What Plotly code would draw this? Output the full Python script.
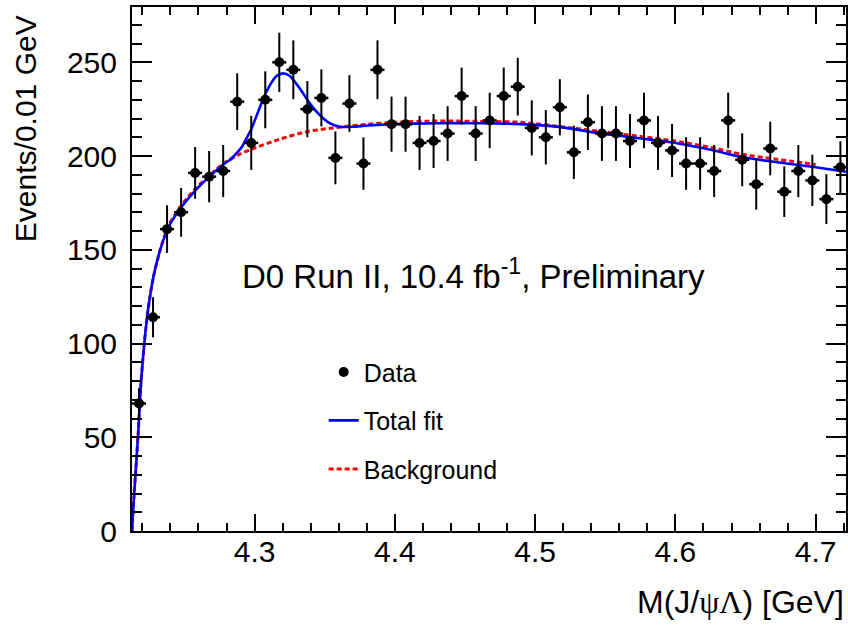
import plotly.graph_objects as go

# ---- data ----
mass_bins = [4.2176, 4.2276, 4.2376, 4.2476, 4.2576, 4.2676, 4.2776, 4.2876, 4.2976, 4.3076,
             4.3176, 4.3276, 4.3376, 4.3476, 4.3576, 4.3676, 4.3776, 4.3876, 4.3976, 4.4076,
             4.4176, 4.4276, 4.4376, 4.4476, 4.4576, 4.4676, 4.4776, 4.4876, 4.4976, 4.5076,
             4.5176, 4.5276, 4.5376, 4.5476, 4.5576, 4.5676, 4.5776, 4.5876, 4.5976, 4.6076,
             4.6176, 4.6276, 4.6376, 4.6476, 4.6576, 4.6676, 4.6776, 4.6876, 4.6976, 4.7076,
             4.7176]
events = [68, 114, 161, 170, 191, 189, 192, 229, 207, 230,
          250, 246, 225, 231, 199, 228, 196, 246, 217, 217,
          207, 208, 212, 232, 212, 219, 232, 237, 215, 210,
          226, 202, 218, 212, 212, 208, 219, 207, 203, 196,
          196, 192, 219, 198, 185, 204, 181, 192, 187, 177,
          194]
event_errors = [8.2, 10.7, 12.7, 13.0, 13.8, 13.7, 13.9, 15.1, 14.4, 15.2,
                15.8, 15.7, 15.0, 15.2, 14.1, 15.1, 14.0, 15.7, 14.7, 14.7,
                14.4, 14.4, 14.6, 15.2, 14.6, 14.8, 15.2, 15.4, 14.7, 14.5,
                15.0, 14.2, 14.8, 14.6, 14.6, 14.4, 14.8, 14.4, 14.2, 14.0,
                14.0, 13.9, 14.8, 14.1, 13.6, 14.3, 13.5, 13.9, 13.7, 13.3,
                13.9]
bin_half_width = 0.005

bkg_mass = [4.2126, 4.2140, 4.2155, 4.2170, 4.2190, 4.2216, 4.2244, 4.2280, 4.2327, 4.2386,
            4.2471, 4.2570, 4.2669, 4.2777, 4.2880, 4.2990, 4.3179, 4.3369, 4.3559, 4.3807,
            4.40, 4.43, 4.46, 4.49, 4.52, 4.55, 4.58, 4.60, 4.626, 4.647, 4.67, 4.70]
bkg_vals = [0, 18, 35, 52, 79, 102, 120, 136, 150, 163,
            173, 182, 189, 196, 200.5, 204, 209, 213, 215, 217,
            218, 218.7, 218.5, 218, 215.5, 212.8, 210, 208, 204.5, 201, 198.5, 195.5]

fit_mass = [4.2126, 4.2140, 4.2155, 4.2170, 4.2190, 4.2216, 4.2244, 4.2280, 4.2327, 4.2386,
            4.2471, 4.2570, 4.2669, 4.2777, 4.2830, 4.2872, 4.2910, 4.2943, 4.2980, 4.3014,
            4.3085, 4.3156, 4.3203, 4.3251, 4.3322, 4.3393, 4.3464, 4.3535, 4.3606, 4.3700,
            4.3807, 4.40, 4.43, 4.46, 4.49, 4.52, 4.5467, 4.58, 4.60, 4.626, 4.647,
            4.67, 4.70, 4.7216]
fit_vals = [0, 18, 35, 52, 79, 102, 120, 136, 150, 162,
            172, 181, 188.5, 195.5, 198.3, 201.5, 205, 209.5, 215, 221.5,
            234.5, 242.7, 244.1, 242.7, 236.1, 228.1, 221.9, 217.5, 215.6, 215.6,
            216.3, 217, 217.5, 217.5, 217, 215.3, 212, 209, 207, 203.2, 199.5,
            197, 194, 191.6]

x_range = [4.2126, 4.7216]
y_range = [0, 279.5]

FONT = "Liberation Sans, Arial, Helvetica, sans-serif"

fig = go.Figure()

fig.add_trace(go.Scatter(
    x=bkg_mass, y=bkg_vals, mode="lines", name="Background",
    line=dict(color="#ff0000", width=3, dash="5px,3px", shape="spline", smoothing=0.6),
    legendgroup="bkg", legendrank=3))

fig.add_trace(go.Scatter(
    x=fit_mass, y=fit_vals, mode="lines", name="Total fit",
    line=dict(color="#0000ff", width=2.6, shape="spline", smoothing=0.6),
    legendgroup="fit", legendrank=2))

fig.add_trace(go.Scatter(
    x=mass_bins, y=events, mode="markers", name="Data",
    marker=dict(color="black", size=10, symbol="circle"),
    error_y=dict(type="data", array=event_errors, color="black", thickness=2, width=0),
    error_x=dict(type="constant", value=bin_half_width, color="black", thickness=2.5, width=0),
    legendgroup="data", legendrank=1))

fig.add_annotation(
    x=0.1512, y=0.4905, xref="paper", yref="paper", xanchor="left", yanchor="middle",
    text="D0 Run II, 10.4 fb<sup>-1</sup>, Preliminary", showarrow=False,
    font=dict(family=FONT, size=33, color="black"))

fig.add_annotation(
    x=1.0, y=-0.136, xref="paper", yref="paper", xanchor="right", yanchor="middle",
    text="M(J/<span style='font-family:Liberation Serif'>\u03c8\u039b</span>) [GeV]",
    showarrow=False, font=dict(family=FONT, size=32, color="black"))

fig.add_annotation(
    x=-0.149, y=0.9885, xref="paper", yref="paper", xanchor="center", yanchor="top",
    text="Events/0.01 GeV", textangle=-90, showarrow=False,
    font=dict(family=FONT, size=30, color="black"))

axis_common = dict(showline=True, linecolor="black", linewidth=2, mirror="allticks",
                   showgrid=False, zeroline=False, ticks="inside", tickcolor="black",
                   tickfont=dict(family=FONT, size=30, color="black"))

fig.update_xaxes(range=x_range, tick0=4.0, dtick=0.1, ticklen=17, tickwidth=1.5,
                 ticklabelstandoff=-7,
                 minor=dict(dtick=0.02, tick0=4.0, ticks="inside", ticklen=8, tickwidth=1.5,
                            tickcolor="black", showgrid=False),
                 **axis_common)
fig.update_yaxes(range=y_range, tick0=0, dtick=50, ticklen=20, tickwidth=1.5,
                 ticklabelstandoff=7,
                 minor=dict(dtick=10, tick0=0, ticks="inside", ticklen=10, tickwidth=1.5,
                            tickcolor="black", showgrid=False),
                 **axis_common)

fig.update_layout(
    width=848, height=628,
    margin=dict(l=132, r=0, t=7, b=97, pad=0),
    paper_bgcolor="white", plot_bgcolor="white",
    font=dict(family=FONT, color="black"),
    showlegend=True,
    legend=dict(x=0.2685, y=0.347, xanchor="left", yanchor="top",
                bgcolor="rgba(0,0,0,0)", borderwidth=0,
                font=dict(family=FONT, size=25, color="black"),
                tracegroupgap=13, itemwidth=30),
)

fig.write_html(
    "out.html",
    config={"displayModeBar": False},
    post_script=["document.body.style.margin='0';document.body.style.padding='0';"
                 "document.documentElement.style.overflow='hidden';"],
)
